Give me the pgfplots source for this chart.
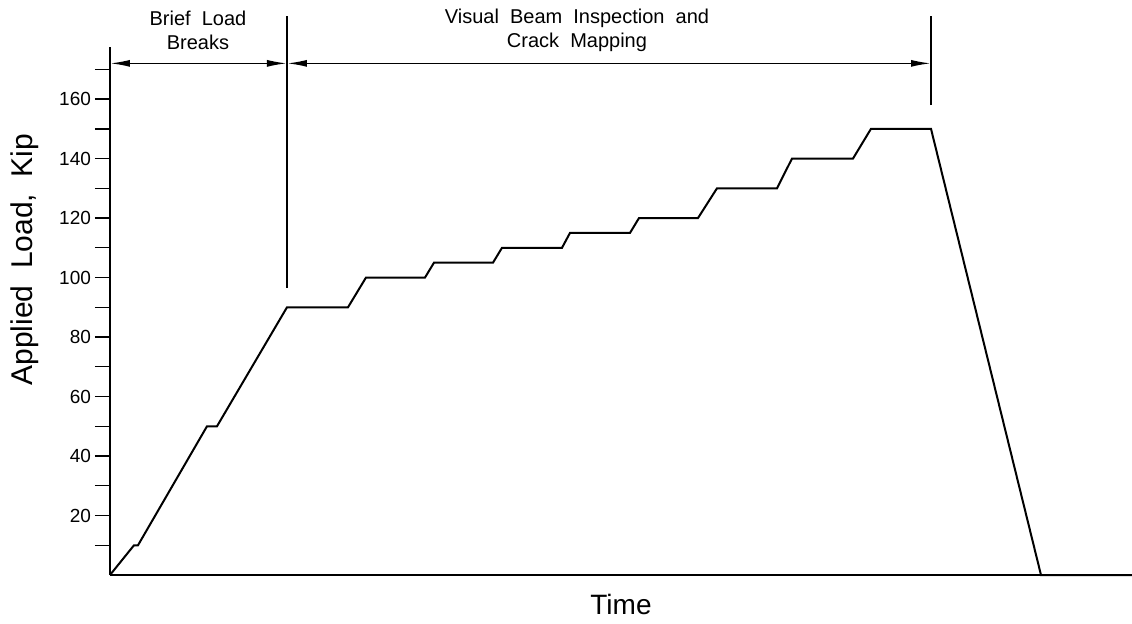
\documentclass[border=0pt]{standalone}
\usepackage{pgfplots}
\pgfplotsset{compat=1.18}
\usepackage{fontspec}
\setmainfont{Liberation Sans}
\usetikzlibrary{arrows.meta}
\begin{document}
\begin{tikzpicture}
\useasboundingbox (-55pt,-24pt) rectangle (511pt,287.5pt);
\begin{axis}[
  scale only axis,
  width=511pt, height=264pt,
  xmin=0, xmax=1022,
  ymin=0, ymax=177.5,
  axis lines=left,
  axis line style={-, line width=0.8pt},
  xtick=\empty,
  ytick={20,40,...,160},
  minor ytick={10,30,...,170},
  tick align=outside,
  major tick length=7.5pt,
  minor tick length=7.5pt,
  tick style={black, line width=0.7pt},
  yticklabel style={font=\fontsize{9.5}{10}\selectfont, xshift=1.5pt},
  /pgf/number format/assume math mode=true,
  clip=false,
]
\addplot[black, line width=1pt] coordinates {
(0,0) (24,10) (28,10) (97,50) (107,50) (177,90) (238,90) (256,100)
(315,100) (324,105) (383,105) (392,110) (452,110) (460,115) (520,115)
(529,120) (588,120) (607,130) (667,130) (682,140) (743,140) (761,150)
(821,150) (931,0) (1022,0)
};
% annotation lines
\draw[line width=0.6pt] (axis cs:177,96.5) -- (axis cs:177,188);
\draw[line width=0.6pt] (axis cs:821,158) -- (axis cs:821,188);
\draw[line width=0.8pt, {Latex[length=10pt,width=3.5pt]}-{Latex[length=10pt,width=3.5pt]}] (axis cs:0,172) -- (axis cs:177,172);
\draw[line width=0.8pt, {Latex[length=10pt,width=3.5pt]}-{Latex[length=10pt,width=3.5pt]}] (axis cs:177,172) -- (axis cs:821,172);
\node[align=center, font=\fontsize{10}{12}\selectfont] at (axis cs:88,183) {Brief\ \ Load\\Breaks};
\node[align=center, font=\fontsize{10}{12}\selectfont] at (axis cs:467,183) {Visual\ \ Beam\ \ Inspection\ \ and\\Crack\ \ Mapping};
\node[rotate=90, font=\fontsize{15}{17}\selectfont] at (axis cs:-85,106) {Applied\ \ Load,\ \ Kip};
\node[font=\fontsize{14}{16}\selectfont] at (axis cs:511,-10) {Time};
\end{axis}
\end{tikzpicture}
\end{document}
